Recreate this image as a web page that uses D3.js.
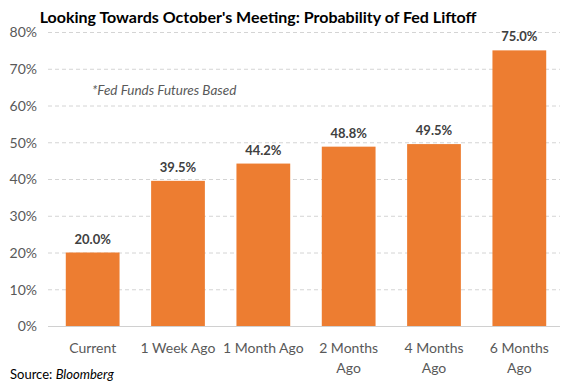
<!DOCTYPE html>
<html lang="en">
<head>
    <meta charset="UTF-8">
    <title>Probability of Fed Liftoff</title>
    <script src="https://d3js.org/d3.v7.min.js"></script>
    <style>
        body { margin: 0; background: #fff; }
        text { font-family: Lato, "Liberation Sans", sans-serif; }
        .axis-y text, .axis-x text { fill: #595959; font-size: 14px; }
        .bar { fill: #ED7D31; }
        .value { fill: #404040; font-size: 13px; font-weight: bold; }
    </style>
</head>
<body>
    <svg id="chart"></svg>

    <script>
        // Данные
        var categories = ["Current", "1 Week Ago", "1 Month Ago", "2 Months Ago", "4 Months Ago", "6 Months Ago"];
        var labelLines = [["Current"], ["1 Week Ago"], ["1 Month Ago"], ["2 Months", "Ago"], ["4 Months", "Ago"], ["6 Months", "Ago"]];
        var values = [20.0, 39.5, 44.2, 48.8, 49.5, 75.0];
        var yTicks = [0, 10, 20, 30, 40, 50, 60, 70, 80];

        var width = 581;
        var height = 386;
        var plotLeft = 50, plotRight = 562, plotTop = 32, plotBottom = 326;

        var svg = d3.select("#chart")
                    .attr("width", width)
                    .attr("height", height);

        var xScale = d3.scaleBand()
                       .domain(categories)
                       .range([plotLeft, plotRight])
                       .paddingInner(0.37)
                       .paddingOuter(0.185);

        var yScale = d3.scaleLinear()
                       .domain([0, 80])
                       .range([plotBottom, plotTop]);

        // Сетка
        svg.append("g")
           .selectAll("line")
           .data(yTicks.filter(function(d) { return d > 0; }))
           .enter().append("line")
           .attr("x1", 48).attr("x2", 560)
           .attr("y1", function(d) { return yScale(d) + 0.5; })
           .attr("y2", function(d) { return yScale(d) + 0.5; })
           .attr("stroke", "#d4d4d4")
           .attr("stroke-dasharray", "4,3");

        // Ось Y
        var yAxis = svg.append("g")
           .attr("class", "axis-y")
           .attr("transform", "translate(37,0)")
           .call(d3.axisLeft(yScale).tickValues(yTicks).tickSize(0).tickPadding(0)
                 .tickFormat(function(d) { return d + "%"; }));
        yAxis.select(".domain").remove();
        yAxis.selectAll("text").attr("dy", "0.35em");

        // Столбцы
        svg.selectAll(".bar")
           .data(values)
           .enter().append("rect")
           .attr("class", "bar")
           .attr("x", function(d, i) { return xScale(categories[i]); })
           .attr("width", xScale.bandwidth())
           .attr("y", function(d) { return yScale(d); })
           .attr("height", function(d) { return yScale(0) - yScale(d); });

        // Подписи значений
        svg.selectAll(".value")
           .data(values)
           .enter().append("text")
           .attr("class", "value")
           .attr("text-anchor", "middle")
           .attr("x", function(d, i) { return xScale(categories[i]) + xScale.bandwidth() / 2; })
           .attr("y", function(d) { return yScale(d) - 9; })
           .text(function(d) { return d.toFixed(1) + "%"; });

        // Базовая линия
        svg.append("line")
           .attr("x1", 48).attr("x2", 560)
           .attr("y1", yScale(0) + 0.5).attr("y2", yScale(0) + 0.5)
           .attr("stroke", "#d0d0d0");

        // Ось X
        var xAxis = svg.append("g")
           .attr("class", "axis-x")
           .attr("transform", "translate(0," + plotBottom + ")")
           .call(d3.axisBottom(xScale).tickSize(0).tickFormat(""));
        xAxis.select(".domain").remove();
        xAxis.selectAll(".tick").each(function(d, i) {
            var t = d3.select(this).append("text")
                .attr("text-anchor", "middle")
                .attr("fill", "#595959");
            labelLines[i].forEach(function(line, j) {
                t.append("tspan").attr("x", 0).attr("y", 27 + j * 20).text(line);
            });
        });

        // Заголовок
        svg.append("text")
           .attr("x", 258).attr("y", 23)
           .attr("text-anchor", "middle")
           .attr("font-size", "16px")
           .attr("font-weight", "bold")
           .attr("fill", "#000")
           .text("Looking Towards October's Meeting: Probability of Fed Liftoff");

        // Примечание
        svg.append("text")
           .attr("x", 92).attr("y", 95)
           .attr("font-size", "13.5px")
           .attr("font-style", "italic")
           .attr("fill", "#595959")
           .text("*Fed Funds Futures Based");

        // Источник
        var src = svg.append("text")
           .attr("x", 10).attr("y", 379)
           .attr("font-size", "13px")
           .attr("fill", "#000");
        src.append("tspan").text("Source: ");
        src.append("tspan").attr("font-style", "italic").text("Bloomberg");
    </script>
</body>
</html>
